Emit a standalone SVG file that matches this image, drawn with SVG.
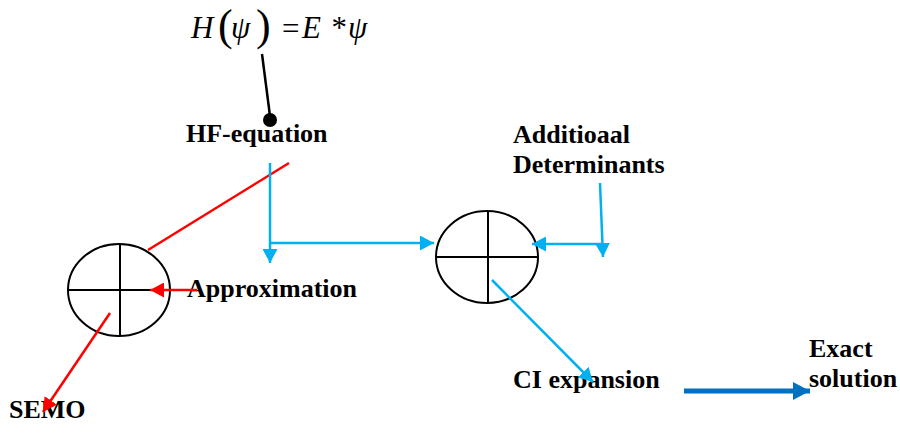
<svg xmlns="http://www.w3.org/2000/svg" width="900" height="446" viewBox="0 0 900 446">
  <style>
    .lbl { font-family: "Liberation Serif", "Times New Roman", serif; font-weight: bold; font-size: 26px; fill: #000; }
    .eq { font-family: "Liberation Serif", "Times New Roman", serif; font-style: italic; font-size: 31px; fill: #000; }
    .par { font-family: "Liberation Serif", "Times New Roman", serif; font-size: 44px; fill: #000; }
    .circ { fill: none; stroke: #000; stroke-width: 2; }
    .lb { fill: none; stroke: #00B0F0; stroke-width: 2.5; }
    .rd { fill: none; stroke: #FF0000; stroke-width: 2.5; }
    .db { fill: none; stroke: #0070C0; stroke-width: 5; }
  </style>
  <defs>
    <marker id="aLB" markerUnits="userSpaceOnUse" markerWidth="15" markerHeight="15" refX="14" refY="7.5" orient="auto">
      <path d="M0,0 L14,7.5 L0,15 Z" fill="#00B0F0"/>
    </marker>
    <marker id="aRD" markerUnits="userSpaceOnUse" markerWidth="15" markerHeight="15" refX="14" refY="7.5" orient="auto">
      <path d="M0,0 L14,7.5 L0,15 Z" fill="#FF0000"/>
    </marker>
    <marker id="aDB" markerUnits="userSpaceOnUse" markerWidth="18" markerHeight="18" refX="17" refY="9" orient="auto">
      <path d="M0,0 L17,9 L0,18 Z" fill="#0070C0"/>
    </marker>
  </defs>

  <g id="equation">
    <text class="eq" x="191" y="38">H</text>
    <text class="par" x="218" y="40">(</text>
    <text class="eq" x="231" y="38">ψ</text>
    <text class="par" x="256" y="40">)</text>
    <text class="eq" x="280" y="39" font-style="normal" font-size="37">=</text>
    <text class="eq" x="302" y="38">E</text>
    <text class="eq" x="330" y="38">*</text>
    <text class="eq" x="348" y="38">ψ</text>
  </g>

  <g id="hf-equation">
    <text class="lbl" x="186" y="142">HF-equation</text>
  </g>

  <g id="left-circle">
    <ellipse class="circ" cx="119" cy="290" rx="51" ry="46"/>
    <line class="circ" x1="120" y1="244" x2="120" y2="336"/>
    <line class="circ" x1="68" y1="290" x2="170" y2="290"/>
  </g>

  <g id="approximation">
    <text class="lbl" x="187" y="297">Approximation</text>
  </g>

  <g id="semo">
    <text class="lbl" x="9" y="418">SEMO</text>
  </g>

  <g id="right-circle">
    <ellipse class="circ" cx="487" cy="257" rx="51" ry="46"/>
    <line class="circ" x1="488" y1="211" x2="488" y2="303"/>
    <line class="circ" x1="436" y1="257" x2="538" y2="257"/>
  </g>

  <g id="additional-determinants">
    <text class="lbl" x="513" y="143">Additioaal</text>
    <text class="lbl" x="513" y="173">Determinants</text>
  </g>

  <g id="ci-expansion">
    <text class="lbl" x="513" y="388">CI expansion</text>
  </g>

  <g id="exact-solution">
    <text class="lbl" x="809" y="357">Exact</text>
    <text class="lbl" x="809" y="387">solution</text>
  </g>

  <g id="connectors">
    <line x1="262" y1="54" x2="270" y2="116" stroke="#000" stroke-width="2.5"/>
    <circle cx="270" cy="120" r="7" fill="#000"/>
    <line class="rd" x1="289" y1="163" x2="148" y2="250"/>
    <line class="rd" x1="197" y1="290" x2="150" y2="290" marker-end="url(#aRD)"/>
    <line class="rd" x1="110" y1="313" x2="43" y2="412" marker-end="url(#aRD)"/>
    <line class="lb" x1="270" y1="163" x2="270" y2="263" marker-end="url(#aLB)"/>
    <line class="lb" x1="270" y1="243" x2="434" y2="243" marker-end="url(#aLB)"/>
    <line class="lb" x1="600" y1="183" x2="603" y2="257" marker-end="url(#aLB)"/>
    <line class="lb" x1="603" y1="244" x2="532" y2="244" marker-end="url(#aLB)"/>
    <line class="lb" x1="492" y1="280" x2="593" y2="382" marker-end="url(#aLB)"/>
    <line class="db" x1="684" y1="391" x2="810" y2="391" marker-end="url(#aDB)"/>
  </g>
</svg>
